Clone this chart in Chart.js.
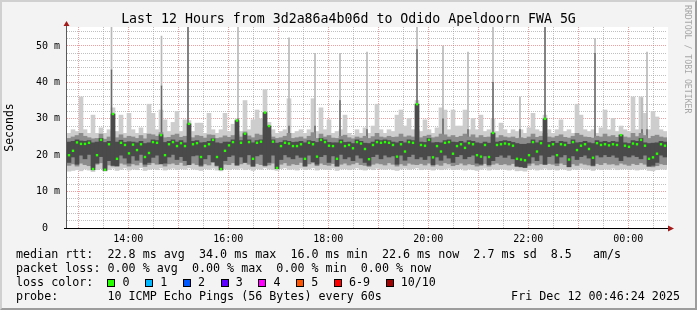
<!DOCTYPE html>
<html><head><meta charset="utf-8">
<script src="https://cdn.jsdelivr.net/npm/chart.js@4.4.1/dist/chart.umd.min.js"></script>
<style>
html,body{margin:0;padding:0;background:#f3f3f3;}
#wrap{position:relative;width:697px;height:310px;overflow:hidden;background:#f3f3f3;font-family:'DejaVu Sans Mono',monospace;color:#000;}
#cv{position:absolute;left:0;top:0;width:697px;height:310px;}
#frame{position:absolute;left:0;top:0;width:697px;height:310px;box-sizing:border-box;border-top:2px solid #d0d0d0;border-left:2px solid #d0d0d0;border-right:2px solid #9c9c9c;border-bottom:2px solid #9c9c9c;pointer-events:none;}
#title{position:absolute;left:0;top:11px;width:697px;text-align:center;font-size:13.25px;line-height:16px;white-space:pre;}
#foot{position:absolute;left:16px;top:247px;font-size:11.7px;line-height:14px;}
#foot .ln{height:14px;white-space:pre;}
#date{position:absolute;right:17px;top:289px;font-size:11.7px;line-height:14px;white-space:pre;}
#rrd{position:absolute;left:684px;top:5px;writing-mode:vertical-rl;font-size:8.2px;line-height:8px;color:#a6a6a6;white-space:pre;}
.box{display:inline-block;width:6px;height:6px;border:1px solid #000;vertical-align:-1px;margin-right:7px;}
.lab{margin-right:15.7px;}
</style>
</head><body>
<div id="wrap">
<canvas id="cv" width="697" height="310"></canvas>
<div id="title">Last 12 Hours from 3d2a86a4b06d to Odido Apeldoorn FWA 5G</div>
<div id="rrd">RRDTOOL / TOBI OETIKER</div>
<div id="foot"><div class="ln">median rtt:  22.8 ms avg  34.0 ms max  16.0 ms min  22.6 ms now  2.7 ms sd  8.5   am/s</div><div class="ln">packet loss: 0.00 % avg  0.00 % max  0.00 % min  0.00 % now</div><div class="ln" id="losses">loss color:  </div><div class="ln">probe:       10 ICMP Echo Pings (56 Bytes) every 60s</div></div>
<div id="date">Fri Dec 12 00:46:24 2025</div>
<div id="frame"></div>
</div>
<script>
// ---- data (ms), one sample per 4.8 minutes starting 12:46:24 ----
const med = [
20,21.2,23.5,23.1,23.1,23.4,16.2,20,24.2,16,
23,31.3,19,23.4,22.8,20.5,22.9,21.4,23,19.5,
20.6,23.6,23.4,25.5,20,23,23.6,22.5,23.3,22.5,
28.6,23,23.3,19.5,22.5,23,24.2,19.5,16.2,21.2,
22.7,23.6,29.5,23.4,25.9,23.6,19,23.4,23.7,31.7,
28,23.7,16.5,22.5,23.4,23.2,22.5,22.5,23,19,
23.4,23,19.6,24.2,23.6,22.6,22.5,19,23.6,22.5,
22.8,21.9,23.6,23.2,21.7,18.9,22.8,23.6,23.4,23.6,
23.4,22.8,19.6,23,21,23.6,23.4,34,22.8,22.6,
24.2,19.4,22.5,21,23.4,23.6,20.4,22.5,23,22,
23.3,23,20,19.6,22.8,19.5,26.1,22.8,23,23.2,
23,22.6,19,18.8,18.6,20,23.6,21,23.3,30,
22.6,23,20,23,22.8,18.8,23.6,21.4,22.6,23,
21.7,19.3,23.3,22.8,23,22.7,23,22.8,25.5,22.6,
22.3,23.2,23,24.2,22.6,19,19.4,20.4,23,22.6];
const pingMax = [
26,27,26.5,36,27,26,31,26,27.5,26,
27,33,26.5,31,26,31.5,27,26,27.5,26,
34,31.5,27,32.4,29.7,26.5,29,32,26.5,29.7,
29.5,26.5,28.8,28.8,26,31.5,27,26,27,31.5,
26.5,28.5,30,26.5,35,27,29.7,32.4,30,38,
29,27,26,26.5,27,35.5,26,26.5,27,26,
27,35.5,26.5,33,27,29.7,26,26.5,27,31,
26,25.5,27,26,27.5,26,28,34,27,26,
27,26.5,31,32.4,28,30.1,27,35,26.5,29.7,
27,26,27.5,33,32.4,27,32.4,28,28,32.4,
27,30.1,27,31,26.5,27,30,26.5,28.8,27,
26,27,26.5,27,26,27.5,31.5,27,26.5,31,
27,26,27,29.7,26.5,27,26,34,31,27,
26.5,27,26,27.5,32.4,27,30.1,26.5,28,27,
26.5,36,27,36,31.5,27,32,30.5,27,26.5];
const pingMin = [
15.6,15.8,16,15.7,16.2,15.9,15.5,16,16.3,15.6,
16,16.4,15.8,16.1,16.5,15.9,16.2,16,16.6,15.8,
16.1,16.3,16,16.5,15.9,16.2,16.4,16,16.3,16.1,
16.5,16.2,16,15.8,16.3,16.1,16.4,15.9,15.7,16.2,
16,16.3,16.1,16.4,16,16.2,15.8,16.3,16.1,16.5,
16.2,16,15.8,16.3,16.5,16.1,16.2,15.9,16.4,16,
16.2,16.5,15.9,16.3,16.1,16,16.4,15.8,16.2,16.3,
16,16.2,16.5,16.1,15.9,16.3,16,16.4,16.2,16.1,
16.3,16,15.8,16.2,16.4,16.1,16.3,16.5,16,16.2,
16.1,15.9,16.3,16,16.2,16.4,16,16.1,16.3,15.9,
16.2,16,15.8,16.1,16.4,15.9,16.2,16,16.3,16.1,
15.9,16.2,15.7,15.8,15.6,16,16.3,15.9,16.1,16.4,
16,16.2,15.9,16.3,16.1,15.8,16.2,16,16.4,16.1,
16.2,15.8,16.3,16,16.2,16.1,16.4,16,16.2,16.3,
16,16.2,15.9,16.1,16.3,15.8,15.7,16,16.2,16.1];
const ping2 = [
17.2,17.6,17,17.8,17.4,17.1,16.6,17.5,17.9,16.4,
17.3,17,17.2,17.8,17.5,17,17.6,17.3,18,16.9,
17.4,17.9,17.5,18.1,17,17.6,17.8,17.4,18,17.2,
17.5,17.8,17.4,16.9,17.6,17.3,18,17,16.6,17.5,
17.4,17.9,17.2,17.6,18,17.5,16.9,17.7,17.4,17,
17.3,17.8,16.8,17.5,17.9,17.2,17.6,17.4,18,17,
17.6,17.9,17.1,17.8,17.4,17.2,17.7,17,17.5,17.8,
17.3,17.6,18,17.4,17.2,16.9,17.5,17.8,17.6,17.3,
17.9,17.5,17,17.6,17.2,17.8,17.5,17.4,17.7,17.3,
17.8,17,17.5,17.2,17.9,17.6,17.1,17.4,17.8,17.3,
17.6,17.4,17,17.2,17.7,17,17.5,17.8,17.4,17.6,
17.3,17.7,16.9,16.8,16.9,17.2,17.8,17.3,17.6,17.4,
17.7,17.5,17.1,17.8,17.4,16.9,17.6,17.2,17.8,17.5,
17.3,17,17.7,17.4,17.9,17.5,17.6,17.3,17.8,17.5,
17.2,17.7,17.4,17.9,17.5,16.9,16.8,17.1,17.6,17.4];
const ping9 = [
24.6,25,25.4,26,25.2,24.8,24.5,24.6,25.8,24.4,
25,26.5,24.8,25.6,24.7,25.2,25,24.6,25.4,24.5,
25.8,25.6,25.2,26.2,24.8,24.9,25.5,25.8,24.9,25.2,
25,24.8,25.4,25.2,24.7,25.6,25.5,24.6,24.8,25.3,
24.9,25.4,25.6,25,26.4,25.3,24.8,25.8,25.5,27.5,
25.6,25,24.6,24.8,25.2,26,24.6,24.8,25,24.5,
25.2,26.2,24.6,25.8,25,25.4,24.7,24.6,25.2,25.5,
24.8,24.5,25,24.7,25.2,24.6,25.1,26,25,24.8,
25.2,24.9,25,25.8,25,25.3,25,27,24.8,25.2,
25.5,24.8,25,25.8,25.6,25,25.4,24.9,25.2,25.8,
25,25.6,24.8,25.4,24.9,25,26,24.8,25.4,25,
24.8,25,24.6,24.8,24.6,25,25.8,24.9,25.2,26,
25,24.8,25.2,25.6,24.9,24.7,25.2,26,25.5,25,
24.9,24.7,25.2,25,25.8,25.1,25.4,24.9,25.6,25,
24.8,26,25.1,26,25.4,24.6,25.2,25.5,25,24.8];
const ping3 = [
18,19.5,17.5,20,19,20.2,16,17.8,19.6,15.8,
18.5,17.2,17,20,19.2,17.8,19.8,18.6,20.2,17.5,
18,19.4,20,17.6,17.8,19.5,20.2,18.8,19.6,18.5,
17.4,19.8,20,17.2,19,20.1,18.2,17.2,16,18.5,
19.6,20,17.3,19.5,18,20.1,17,19.8,20.2,17.2,
18,20,16.3,18.8,20.1,19.5,19,20,19.4,17,
20,18.2,17.5,19.6,20.1,18,19.8,17,20.2,19,
19.5,18.5,20,19.2,18,17.2,19.6,20.2,19,20,
19.5,19.8,17.5,20,18.6,19.6,20.2,19,19.5,18.8,
19.8,17.4,19.5,18.6,20,19.2,18,19.6,20.1,19,
19.6,20,17.8,17.5,19.8,17.4,18.5,19.6,20,19.4,
20,19,17,16.8,16.6,17.8,19.5,18.5,20,17.5,
19.6,20,17.8,19.5,20.1,16.8,19.8,18.8,19.6,20,
19.2,17.2,20,19.5,20.1,19.6,20,19.4,18.5,19.8,
19.5,20,19.6,19,20,17,17.2,18,20,19.5];
const ping8 = [
23.6,23.8,24.2,23.9,23.8,24,23.4,23.6,24.6,23.5,
23.8,31.3,23.6,24.1,23.5,23.7,23.6,23.4,23.8,23.2,
23.4,24.2,24,25.6,23.5,23.8,24.2,23.6,24,23.4,
28.6,23.8,24,23.4,23.5,23.8,24.5,23.4,23.2,23.6,
23.6,24.2,29.5,24,25.9,24.2,23.4,24,24.2,31.7,
28,24.2,23.3,23.5,24,23.8,23.5,23.6,23.8,23.4,
24,23.8,23.5,24.6,24.2,23.5,23.4,23.4,24.2,23.5,
23.6,23.2,24.2,23.8,23.3,23.2,23.6,24.2,24,24.2,
24,23.6,23.4,23.8,23.4,24.2,24,34,23.6,23.5,
24.6,23.4,23.5,23.4,24,24.2,23.6,23.5,23.8,23.4,
24,23.8,23.4,23.2,23.6,23.3,26.1,23.6,23.8,24,
23.8,23.5,23.2,23,23,23.2,24.2,23.4,24,30,
23.5,23.8,23.3,23.8,23.6,23,24.2,23.4,23.5,23.8,
23.4,23.2,24,23.6,23.8,23.5,23.8,23.6,25.5,23.4,
23.2,24,23.8,24.6,23.4,23.2,23.3,23.4,23.8,23.6];
// single-sample outliers (minutes after 12:46:24, top value, where darker part ends)
const spikeMin = [53.4,113.4,145.2,205.2,266.4,297.6,327.6,360,420,451.2,481.2,511.2,543.6,573.6,633.6,690,696];
const spikeTop = [58,52.7,58,58,52.2,48,48,48.3,58,50,48.3,58,36,58,52,35.7,48.3];
const spikeDark = [43.4,39,58,30,28,28,35,27,49,30,27,40,27,58,48,27,27];
const spikeBase = 24.5;

const xLabels = ['14:00','16:00','18:00','20:00','22:00','00:00'];
const yLabelValues = [0,10,20,30,40,50];
const yLabels = ['0  ','10 m','20 m','30 m','40 m','50 m'];
const lossLabels = ['0','1','2','3','4','5','6-9','10/10'];
const lossColors = ['#26ff00','#00b8ff','#0059ff','#5e00ff','#ff00ff','#ff5500','#ff0000','#a10000'];

const stepMin = 4.8;      // minutes per sample
const spanMin = 720;      // 12 hours
const firstHourOffset = 13.6; // 13:00 is 13.6 minutes after 12:46:24
const yMax = 55.2;

// loss legend
const lossDiv = document.getElementById('losses');
lossLabels.forEach((l, k) => {
  const b = document.createElement('span'); b.className = 'box'; b.style.background = lossColors[k];
  const t = document.createElement('span'); t.className = 'lab'; t.textContent = l;
  lossDiv.appendChild(b); lossDiv.appendChild(t);
});

const tAt = i => i * stepMin + stepMin / 2;
const band = (lo, hi) => lo.map((v, i) => ({x: tAt(i), y: [v, hi[i]]}));

const decor = {
  id: 'decor',
  beforeDraw(chart) {
    const {ctx, chartArea: a} = chart;
    ctx.save(); ctx.fillStyle = '#ffffff';
    ctx.fillRect(a.left, a.top, a.right - a.left + 1, a.bottom - a.top);
    ctx.restore();
  },
  afterDraw(chart) {
    const {ctx, chartArea: a} = chart;
    ctx.save();
    ctx.lineWidth = 1;
    ctx.strokeStyle = '#5a5a5a';
    ctx.beginPath(); ctx.moveTo(a.left - 0.5, a.bottom + 1); ctx.lineTo(a.left - 0.5, a.top - 4); ctx.stroke();
    ctx.strokeStyle = '#000000';
    ctx.beginPath(); ctx.moveTo(a.left - 3, a.bottom + 0.5); ctx.lineTo(a.right + 3, a.bottom + 0.5); ctx.stroke();
    ctx.fillStyle = '#a31b1b';
    ctx.beginPath(); ctx.moveTo(a.left - 0.5, a.top - 6); ctx.lineTo(a.left - 3.5, a.top - 1); ctx.lineTo(a.left + 2.5, a.top - 1); ctx.closePath(); ctx.fill();
    ctx.beginPath(); ctx.moveTo(a.right + 7, a.bottom + 0.5); ctx.lineTo(a.right + 1, a.bottom - 2.5); ctx.lineTo(a.right + 1, a.bottom + 3.5); ctx.closePath(); ctx.fill();
    ctx.restore();
  }
};

Chart.defaults.font.family = "'DejaVu Sans Mono', monospace";
Chart.defaults.color = '#000';

const barCommon = {type: 'bar', grouped: false, barThickness: 4, borderWidth: 0, borderSkipped: false};
const spikeCommon = {type: 'bar', grouped: false, barThickness: 1, borderWidth: 0, borderSkipped: false};

new Chart(document.getElementById('cv'), {
  type: 'bar',
  data: {
    datasets: [
      {type: 'line', label: 'median', data: med.map((v, i) => ({x: tAt(i), y: v})), showLine: false,
        pointStyle: 'rect', pointRadius: 1.7, pointBackgroundColor: '#26ff00', pointBorderWidth: 0, order: 0},
      Object.assign({label: 'inner', data: band(ping3, ping8), backgroundColor: '#4a4a4a', order: 1}, barCommon),
      Object.assign({label: 'mid', data: band(ping2, ping9), backgroundColor: '#8c8c8c', order: 2}, barCommon),
      Object.assign({label: 'spikeDark', data: spikeMin.map((t, k) => ({x: t, y: [spikeBase, spikeDark[k]]})), backgroundColor: '#6a6a6a', order: 3}, spikeCommon),
      Object.assign({label: 'spikeLight', data: spikeMin.map((t, k) => ({x: t, y: [spikeDark[k], spikeTop[k]]})), backgroundColor: '#b9b9b9', order: 4}, spikeCommon),
      Object.assign({label: 'outer', data: band(pingMin, pingMax), backgroundColor: '#cdcdcd', order: 5}, barCommon)
    ]
  },
  options: {
    responsive: false,
    animation: false,
    events: [],
    layout: {padding: {left: 0, right: 30, top: 27, bottom: 62}},
    plugins: {legend: {display: false}, tooltip: {enabled: false}, title: {display: false}},
    scales: {
      x: {
        type: 'linear', min: 0, max: spanMin, offset: false,
        afterFit(s) { s.height = 20; },
        afterBuildTicks(s) {
          const t = [];
          for (let k = 0; k < 24; k++) t.push({value: firstHourOffset + 30 * k});
          s.ticks = t;
        },
        grid: {offset: false, drawTicks: false, tickLength: 0, lineWidth: 1,
          color: c => {
            const v = c.tick ? c.tick.value : 0;
            const k = Math.round((v - firstHourOffset) / 30);
            return k % 2 === 0 ? 'rgba(225,80,80,0.55)' : 'rgba(150,150,150,0.6)';
          }},
        border: {display: false, dash: [1, 1]},
        ticks: {autoSkip: false, maxRotation: 0, padding: 5, font: {size: 10},
          callback: (v) => {
            const k = Math.round((v - firstHourOffset) / 30);
            return (k - 2) % 4 === 0 && k >= 2 ? xLabels[(k - 2) / 4] : '';
          }}
      },
      y: {
        type: 'linear', min: 0, max: yMax,
        afterFit(s) { s.width = 67; },
        afterBuildTicks(s) {
          const t = [];
          for (let v = 0; v <= 54; v += 2) t.push({value: v});
          s.ticks = t;
        },
        grid: {drawTicks: false, tickLength: 0, lineWidth: 1,
          color: c => {
            const v = c.tick ? c.tick.value : 0;
            if (v === 0) return 'rgba(0,0,0,0)';
            return v % 10 === 0 ? 'rgba(225,80,80,0.55)' : 'rgba(150,150,150,0.6)';
          }},
        border: {display: false, dash: [1, 1]},
        title: {display: true, text: 'Seconds', font: {size: 11.5}, padding: {top: 3, bottom: 0}},
        ticks: {autoSkip: false, padding: 7, font: {size: 10},
          callback: (v) => {
            const k = yLabelValues.indexOf(v);
            return k >= 0 ? yLabels[k] : '';
          }}
      }
    }
  },
  plugins: [decor]
});
</script>
</body></html>
